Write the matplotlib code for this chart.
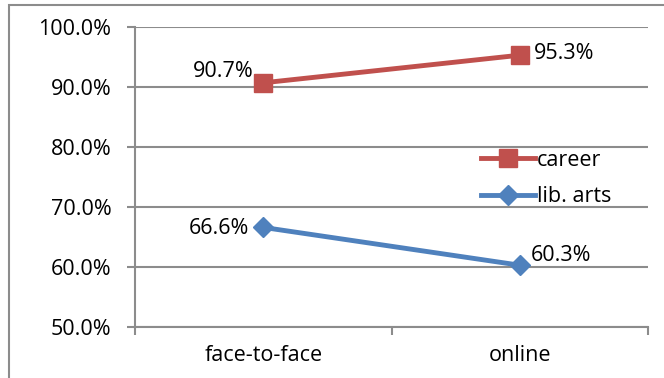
import matplotlib.pyplot as plt
from matplotlib.patches import Rectangle
from matplotlib.ticker import FuncFormatter

modes = ["face-to-face", "online"]
career = [90.7, 95.3]
lib_arts = [66.6, 60.3]
y_ticks = [50, 60, 70, 80, 90, 100]

plt.rcParams['font.family'] = ['Open Sans', 'DejaVu Sans']
FS = 15.5

fig = plt.figure(figsize=(6.64, 3.78), dpi=100)
W, H = 664, 378
ax = fig.add_axes([135 / W, 1 - 327 / H, (648 - 135) / W, 300 / H])

# outer chart border
fig.patches.append(Rectangle((9 / W, -0.05), 1.1, 1 - 5 / H + 0.05, transform=fig.transFigure,
                             fill=False, edgecolor='#8c8c8c', linewidth=1.5))

x = [0.5, 1.5]
ax.plot(x, career, color='#C0504D', linewidth=3.5, marker='s', markersize=13,
        markerfacecolor='#C0504D', markeredgecolor='#C0504D', label='career')
ax.plot(x, lib_arts, color='#4F81BD', linewidth=3.5, marker='D', markersize=10.5,
        markerfacecolor='#4F81BD', markeredgecolor='#4F81BD', label='lib. arts')

ax.set_xlim(0, 2)
ax.set_ylim(50, 100)
ax.set_yticks(y_ticks)
ax.yaxis.set_major_formatter(FuncFormatter(lambda v, p: f"{v:.1f}%"))
ax.set_xticks([0, 1, 2])
ax.set_xticklabels([])
ax.set_xticks(x, minor=True)
ax.set_xticklabels(modes, minor=True)
ax.tick_params(axis='x', which='minor', length=0, labelsize=FS, pad=13)
ax.tick_params(axis='x', which='major', length=6, color='#8c8c8c', width=1.5, direction='out')
ax.tick_params(axis='y', length=6, color='#8c8c8c', width=1.5, direction='out', labelsize=FS, pad=11)
ax.grid(axis='y', color='#8c8c8c', linewidth=1.5)
ax.set_axisbelow(True)
for s in ['top', 'right']:
    ax.spines[s].set_visible(False)
for s in ['left', 'bottom']:
    ax.spines[s].set_color('#8c8c8c')
    ax.spines[s].set_linewidth(1.5)

# data labels
ax.annotate(f"{career[0]:.1f}%", (x[0], career[0]), xytext=(-7, 8), textcoords='offset points',
            ha='right', va='center', fontsize=FS)
ax.annotate(f"{career[1]:.1f}%", (x[1], career[1]), xytext=(10, 1), textcoords='offset points',
            ha='left', va='center', fontsize=FS)
ax.annotate(f"{lib_arts[0]:.1f}%", (x[0], lib_arts[0]), xytext=(-10, -1), textcoords='offset points',
            ha='right', va='center', fontsize=FS)
ax.annotate(f"{lib_arts[1]:.1f}%", (x[1], lib_arts[1]), xytext=(8, 7), textcoords='offset points',
            ha='left', va='center', fontsize=FS)

ax.legend(loc='upper left', bbox_to_anchor=((481 - 135) / 513, (327 - 150) / 300), frameon=False,
          fontsize=FS, handlelength=2.5, handletextpad=0.1, labelspacing=0.7, borderpad=0,
          borderaxespad=0)

fig.savefig('out.png', dpi=100)
